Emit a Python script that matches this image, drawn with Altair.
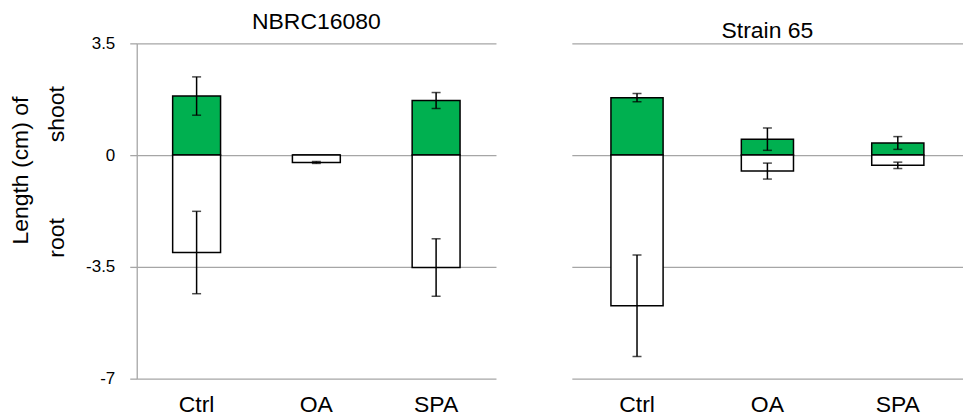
import altair as alt
import pandas as pd

categories = ["Ctrl", "OA", "SPA"]
panel_titles = ["NBRC16080", "Strain 65"]

nbrc_shoot = [1.85, 0.0, 1.71]
nbrc_shoot_err = [0.60, 0.0, 0.25]
nbrc_root = [-3.05, -0.23, -3.52]
nbrc_root_err = [1.29, 0.03, 0.90]

s65_shoot = [1.80, 0.50, 0.38]
s65_shoot_err = [0.13, 0.35, 0.20]
s65_root = [-4.72, -0.50, -0.32]
s65_root_err = [1.59, 0.25, 0.10]

y_ticks = [-7, -3.5, 0, 3.5]

FONT = "Liberation Sans"
GRID = "#a6a6a6"


def frame(shoot, shoot_err, root, root_err):
    rows = []
    for c, v, e in zip(categories, shoot, shoot_err):
        rows.append(dict(cat=c, part="shoot", val=v, err=e))
    for c, v, e in zip(categories, root, root_err):
        rows.append(dict(cat=c, part="root", val=v, err=e))
    df = pd.DataFrame(rows)
    df["lo"] = df["val"] - df["err"]
    df["hi"] = df["val"] + df["err"]
    return df


def panel(df, title, left, width):
    x = alt.X(
        "cat:N",
        sort=categories,
        scale=alt.Scale(paddingInner=0.6, paddingOuter=0.3),
        axis=alt.Axis(
            title=None, labelAngle=0, domain=False, ticks=False, tickSize=0,
            labelFontSize=23, labelPadding=15, labelColor="black", labelFont=FONT,
        ),
    )
    yscale = alt.Scale(domain=[-7, 3.5], nice=False, zero=False)
    if left:
        yaxis = alt.Axis(
            values=y_ticks, grid=True, gridColor=GRID, gridWidth=1.3,
            domain=True, domainColor=GRID, domainWidth=1.3,
            ticks=True, tickColor=GRID, tickSize=7, tickWidth=1.3,
            labels=True, labelExpr="datum.value", labelFontSize=17,
            labelPadding=15, labelColor="black", labelFont=FONT,
            title="Length (cm) of", titleFontSize=23, titleFontWeight="normal",
            titleColor="black", titleFont=FONT, titlePadding=53, titleY=127,
        )
    else:
        yaxis = alt.Axis(
            values=y_ticks, grid=True, gridColor=GRID, gridWidth=1.3,
            domain=False, ticks=False, labels=False, title=None,
        )
    y = alt.Y("val:Q", scale=yscale, axis=yaxis)

    base = alt.Chart(df)
    bars = base.mark_bar(stroke="black", strokeWidth=1.5).encode(
        x=x,
        y=y,
        y2=alt.datum(0),
        color=alt.Color(
            "part:N",
            scale=alt.Scale(domain=["shoot", "root"], range=["#00B050", "#ffffff"]),
            legend=None,
        ),
    )
    eb = base.transform_filter("datum.err > 0")
    rules = eb.mark_rule(color="black", strokeWidth=1.5).encode(
        x=x, y=alt.Y("lo:Q"), y2="hi:Q"
    )
    cap_lo = eb.mark_tick(color="black", thickness=1.5, size=9).encode(
        x=x, y=alt.Y("lo:Q")
    )
    cap_hi = eb.mark_tick(color="black", thickness=1.5, size=9).encode(
        x=x, y=alt.Y("hi:Q")
    )
    layers = [bars, rules, cap_lo, cap_hi]
    if left:
        lab = pd.DataFrame({"t": ["shoot", "root"]})
        shoot_t = alt.Chart(lab).transform_filter("datum.t == 'shoot'").mark_text(
            angle=270, fontSize=23, font=FONT, color="black"
        ).encode(text="t:N", x=alt.value(-80), y=alt.value(71))
        root_t = alt.Chart(lab).transform_filter("datum.t == 'root'").mark_text(
            angle=270, fontSize=23, font=FONT, color="black"
        ).encode(text="t:N", x=alt.value(-80), y=alt.value(195))
        layers += [shoot_t, root_t]
    return alt.layer(*layers).properties(
        width=width,
        height=336,
        title=alt.TitleParams(
            title, fontSize=23, fontWeight="normal", font=FONT, color="black",
            offset=0, anchor="middle",
        ),
    )


left_panel = panel(frame(nbrc_shoot, nbrc_shoot_err, nbrc_root, nbrc_root_err),
                   panel_titles[0], True, 360)
right_panel = panel(frame(s65_shoot, s65_shoot_err, s65_root, s65_root_err),
                    panel_titles[1], False, 392)

chart = alt.hconcat(left_panel, right_panel, spacing=76).properties(
    padding={"left": 1, "top": 3, "right": 0, "bottom": 0}
).configure_view(stroke=None).resolve_scale(x="independent", y="independent")

chart.save("out.html", embed_options={"renderer": "svg", "actions": False})
